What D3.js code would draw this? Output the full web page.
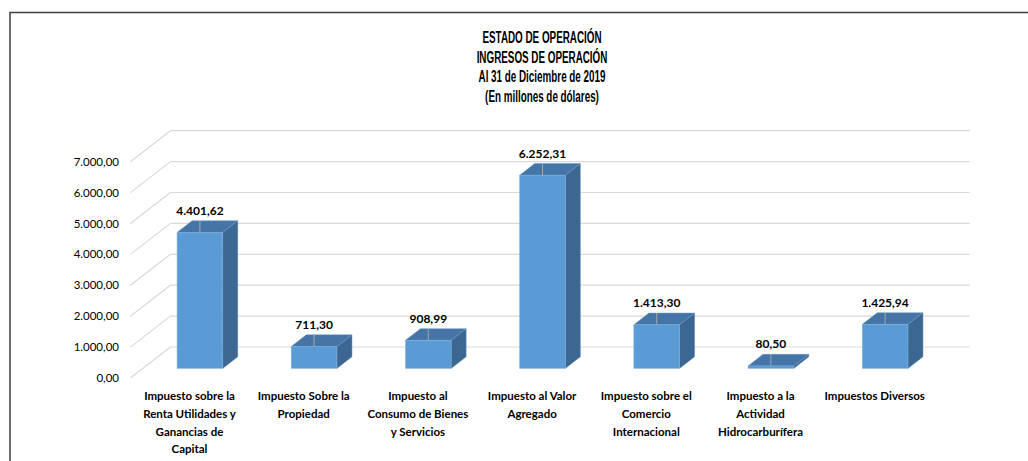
<!DOCTYPE html>
<html>
<head>
<meta charset="utf-8">
<script src="https://cdn.jsdelivr.net/npm/d3@7"></script>
<style>
  body { margin: 0; background: #fff; }
  svg { display: block; }
  .title { font-family: "Liberation Sans", Arial, sans-serif; font-weight: bold; font-size: 17px; fill: #000; }
  .tick { font-family: Lato, "Open Sans", sans-serif; font-size: 11.5px; fill: #000; }
  .cat { font-family: Lato, "Open Sans", sans-serif; font-weight: bold; font-size: 11.5px; fill: #000; }
  .val { font-family: Lato, "Open Sans", sans-serif; font-weight: bold; font-size: 12px; fill: #000; }
</style>
</head>
<body>
<script>
'use strict';

// chart data
const categories = [
  "Impuesto sobre la\nRenta Utilidades y\nGanancias de\nCapital",
  "Impuesto Sobre la\nPropiedad",
  "Impuesto al\nConsumo de Bienes\ny Servicios",
  "Impuesto al Valor\nAgregado",
  "Impuesto sobre el\nComercio\nInternacional",
  "Impuesto a la\nActividad\nHidrocarburífera",
  "Impuestos Diversos"
];
const values = [4401.62, 711.30, 908.99, 6252.31, 1413.30, 80.50, 1425.94];
const yTicks = [0, 1000, 2000, 3000, 4000, 5000, 6000, 7000];
const titleLines = [
  "ESTADO DE OPERACIÓN",
  "INGRESOS DE OPERACIÓN",
  "Al 31 de Diciembre de 2019",
  "(En millones de dólares)"
];

(function () {
  const width = 1028, height = 461;

  const svg = d3.select('body').append('svg')
    .attr('width', width)
    .attr('height', height);

  // spanish number format
  const locale = d3.formatLocale({ decimal: ",", thousands: ".", grouping: [3], currency: ["", ""] });
  const fmt = locale.format(",.2f");

  // outer frame (only top and left edges visible)
  svg.append('path')
    .attr('d', 'M10,470 L10,12.5 L1040,12.5')
    .attr('fill', 'none')
    .attr('stroke', '#3f3f3f')
    .attr('stroke-width', 1.5);

  // title, squeezed horizontally to look like a narrow font
  svg.append('g')
    .attr('transform', 'translate(542,0) scale(0.58,1)')
    .append('text')
    .attr('class', 'title')
    .attr('text-anchor', 'middle')
    .selectAll('tspan')
    .data(titleLines)
    .enter().append('tspan')
    .attr('x', 0)
    .attr('y', (d, i) => 43 + i * 19.7)
    .text(d => d);

  // scales on front plane
  const x = d3.scaleBand()
    .domain(categories)
    .range([130.4, 929.8])
    .paddingInner(0.6)
    .paddingOuter(0.3);

  const y = d3.scaleLinear()
    .domain([0, 7000])
    .range([378, 161.7]);

  // depth vector for the oblique 3D look
  const depth = { dx: 40, dy: -31 };
  const f1 = 0.31, f2 = 0.685;

  // gridlines: back wall + left wall diagonals
  const grid = svg.append('g');
  grid.selectAll('.gh')
    .data(yTicks)
    .enter().append('line')
    .attr('x1', 130.4 + depth.dx)
    .attr('x2', 929.8 + depth.dx)
    .attr('y1', d => y(d) + depth.dy)
    .attr('y2', d => y(d) + depth.dy)
    .attr('stroke', '#d9d9d9')
    .attr('stroke-width', 1.2);
  grid.selectAll('.gd')
    .data(yTicks)
    .enter().append('line')
    .attr('x1', 130.4)
    .attr('x2', 130.4 + depth.dx)
    .attr('y1', d => y(d))
    .attr('y2', d => y(d) + depth.dy)
    .attr('stroke', '#d9d9d9')
    .attr('stroke-width', 1.2);

  // y tick labels
  svg.append('g').selectAll('text')
    .data(yTicks)
    .enter().append('text')
    .attr('class', 'tick')
    .attr('text-anchor', 'end')
    .attr('x', 119)
    .attr('y', d => y(d) + 4)
    .text(d => fmt(d));

  // bars
  const bw = x.bandwidth();
  const ox = depth.dx * f1, oy = depth.dy * f1;
  const ddx = depth.dx * (f2 - f1), ddy = depth.dy * (f2 - f1);

  const bars = svg.append('g').selectAll('g')
    .data(values)
    .enter().append('g');

  // side face
  bars.append('path')
    .attr('d', (d, i) => {
      const x0 = x(categories[i]) + ox + bw;
      const yt = y(d) + oy, yb = y(0) + oy;
      return `M${x0},${yt} L${x0 + ddx},${yt + ddy} L${x0 + ddx},${yb + ddy} L${x0},${yb} Z`;
    })
    .attr('fill', '#3b6792')
    .attr('stroke', '#5f88b2')
    .attr('stroke-width', 0.5);

  // top face
  bars.append('path')
    .attr('d', (d, i) => {
      const x0 = x(categories[i]) + ox;
      const yt = y(d) + oy;
      return `M${x0},${yt} L${x0 + bw},${yt} L${x0 + bw + ddx},${yt + ddy} L${x0 + ddx},${yt + ddy} Z`;
    })
    .attr('fill', '#4475a6')
    .attr('stroke', '#6f98c2')
    .attr('stroke-width', 0.5);

  // front face
  bars.append('rect')
    .attr('x', (d, i) => x(categories[i]) + ox)
    .attr('y', d => y(d) + oy)
    .attr('width', bw)
    .attr('height', d => y(0) - y(d))
    .attr('fill', '#5b9bd5')
    .attr('stroke', '#7fb0de')
    .attr('stroke-width', 0.5);

  // small leader line across the top face
  bars.append('line')
    .attr('x1', (d, i) => x(categories[i]) + ox + bw / 2)
    .attr('x2', (d, i) => x(categories[i]) + ox + bw / 2)
    .attr('y1', d => y(d) + oy)
    .attr('y2', d => y(d) + oy + ddy)
    .attr('stroke', '#a6a6a6')
    .attr('stroke-width', 1);

  // value labels
  bars.append('text')
    .attr('class', 'val')
    .attr('text-anchor', 'middle')
    .attr('x', (d, i) => x(categories[i]) + ox + bw / 2)
    .attr('y', d => y(d) + oy + ddy - 6)
    .text(d => fmt(d));

  // category labels
  const cat = svg.append('g').selectAll('text')
    .data(categories)
    .enter().append('text')
    .attr('class', 'cat')
    .attr('text-anchor', 'middle');
  cat.selectAll('tspan')
    .data(d => d.split('\n').map(s => ({ s: s, c: d })))
    .enter().append('tspan')
    .attr('x', d => x(d.c) + bw / 2 + 2)
    .attr('y', (d, i) => 400 + i * 17.8)
    .text(d => d.s);
})();
</script>
</body>
</html>
